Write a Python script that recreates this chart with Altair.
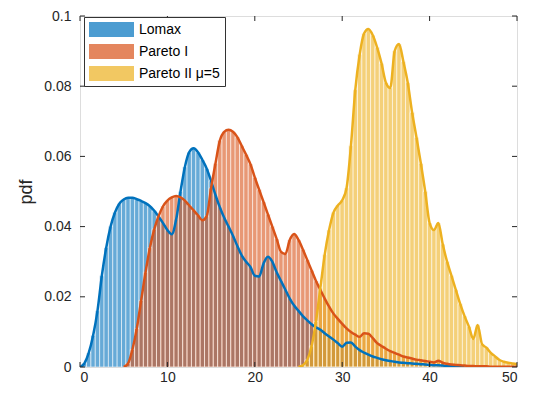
import altair as alt
import pandas as pd

series_names = ["Lomax", "Pareto I", "Pareto II μ=5"]
series_colors = ["#0072BD", "#D95319", "#EDB120"]
bin_width = 0.5

lomax_start = 0.0
lomax_pdf = [0, 0.001, 0.004, 0.009, 0.016, 0.026, 0.034, 0.040, 0.044, 0.0465,
             0.0477, 0.0482, 0.0482, 0.0478, 0.0473, 0.0467, 0.0458, 0.0445, 0.0428, 0.041,
             0.039, 0.0378, 0.042, 0.050, 0.057, 0.0612, 0.0623, 0.0612, 0.059, 0.0565,
             0.053, 0.049, 0.0455, 0.0425, 0.040, 0.0374, 0.0345, 0.0318, 0.030, 0.0285,
             0.026, 0.0258, 0.0295, 0.0314, 0.030, 0.027, 0.0245, 0.022, 0.0195, 0.0175,
             0.016, 0.0145, 0.0133, 0.0122, 0.0113, 0.0106, 0.0096, 0.0087, 0.0078, 0.0068,
             0.0058, 0.0069, 0.0070, 0.0058, 0.0048, 0.0041, 0.0035, 0.003, 0.0026, 0.0022,
             0.0019, 0.0017, 0.0015, 0.0013, 0.0012, 0.0011, 0.001, 0.0009, 0.0008, 0.0007,
             0.0006, 0.0005, 0.0005, 0.0004, 0.0003, 0.0003, 0.0002, 0.0001, 0.0001]

pareto1_start = 5.0
pareto1_pdf = [0, 0.001, 0.005, 0.011, 0.019, 0.027, 0.034, 0.0393, 0.043, 0.0458,
               0.0474, 0.0483, 0.0487, 0.0483, 0.0474, 0.046, 0.0446, 0.0432, 0.0418, 0.043,
               0.051, 0.058, 0.0645, 0.067, 0.0676, 0.067, 0.0655, 0.063, 0.0605, 0.0578,
               0.054, 0.0505, 0.047, 0.0435, 0.040, 0.0365, 0.0328, 0.0322, 0.0362, 0.0379,
               0.0362, 0.0335, 0.0305, 0.0275, 0.0245, 0.022, 0.0195, 0.0172, 0.0152, 0.0137,
               0.0123, 0.011, 0.0100, 0.0092, 0.0086, 0.0096, 0.0095, 0.0082, 0.0068, 0.006,
               0.0052, 0.0045, 0.004, 0.0035, 0.003, 0.0027, 0.0024, 0.0021, 0.0019, 0.0017,
               0.0015, 0.0013, 0.0018, 0.0012, 0.0009, 0.0007, 0.0006, 0.0005, 0.0004, 0.0003,
               0.0003, 0.0002, 0.0002, 0.0002, 0.0001, 0.0001, 0.0001, 0.0001, 0.0001, 0.0001,
               0.0001]

pareto2_start = 25.0
pareto2_pdf = [0, 0.0005, 0.002, 0.006, 0.013, 0.0225, 0.032, 0.039, 0.044, 0.046,
               0.0475, 0.051, 0.063, 0.079, 0.089, 0.095, 0.0963, 0.0945, 0.091, 0.0865,
               0.081, 0.0795, 0.090, 0.092, 0.087, 0.081, 0.0725, 0.0654, 0.058, 0.050,
               0.041, 0.039, 0.041, 0.035, 0.030, 0.026, 0.022, 0.018, 0.0145, 0.0115,
               0.008, 0.012, 0.0065, 0.0055, 0.004, 0.003, 0.002, 0.0015, 0.0012, 0.001,
               0.0008]

x_ticks = [0, 10, 20, 30, 40, 50]
y_ticks = [0, 0.02, 0.04, 0.06, 0.08, 0.1]

W, H = 437, 351
FONT = "Liberation Sans"
AXC = "#262626"

rows = []
for name, start, vals in zip(series_names,
                             [lomax_start, pareto1_start, pareto2_start],
                             [lomax_pdf, pareto1_pdf, pareto2_pdf]):
    for i, v in enumerate(vals):
        x = start + i * bin_width
        rows.append({"series": name, "x": x, "x0": x - bin_width / 2,
                     "x1": x + bin_width / 2, "pdf": v, "base": 0.0})
df = pd.DataFrame(rows)
bars_df = df[df["pdf"] > 0]

xscale = alt.Scale(domain=[0, 50], nice=False, zero=False)
yscale = alt.Scale(domain=[0, 0.1], nice=False)
cscale = alt.Scale(domain=series_names, range=series_colors)

bars = alt.Chart(bars_df).mark_rect(
    fillOpacity=0.6, stroke="white", strokeWidth=0.8, strokeOpacity=0.7, clip=True
).encode(
    x=alt.X("x0:Q", scale=xscale,
            axis=alt.Axis(title=None, values=x_ticks, ticks=False, domain=False, grid=False,
                          labelPadding=3, labelFontSize=14, labelFont=FONT, labelColor=AXC)),
    x2="x1:Q",
    y=alt.Y("pdf:Q", scale=yscale,
            axis=alt.Axis(title="pdf", values=y_ticks, ticks=False, domain=False, grid=False,
                          format="~g", labelPadding=9, labelFontSize=14, labelFont=FONT,
                          labelColor=AXC, titleFontSize=18, titleFont=FONT, titleColor=AXC,
                          titleFontWeight="normal", titleAngle=270, titleX=-49, titleY=H / 2,
                          titleAlign="center", titleBaseline="alphabetic")),
    y2="base:Q",
    color=alt.Color("series:N", scale=cscale, sort=series_names,
                    legend=alt.Legend(title=None, orient="none", legendX=4, legendY=1,
                                      symbolType="M-1,-1L5,-1L5,1L-1,1Z", symbolSize=225,
                                      symbolOpacity=0.7, symbolStrokeWidth=0,
                                      labelOffset=35, labelFontSize=14, labelFont=FONT,
                                      labelColor="black", rowPadding=7, padding=5,
                                      strokeColor="#333333", fillColor="white")),
)

lines = alt.Chart(df).mark_line(strokeWidth=2.5, interpolate="monotone", clip=True).encode(
    x="x:Q",
    y="pdf:Q",
    color=alt.Color("series:N", scale=cscale, legend=None),
    detail="series:N",
)

xt = pd.DataFrame({"t": x_ticks})
yt = pd.DataFrame({"t": y_ticks})
tick_style = dict(color=AXC, strokeWidth=1)
xb = alt.Chart(xt).mark_rule(**tick_style).encode(x="t:Q", y=alt.value(H), y2=alt.value(H - 5))
xtop = alt.Chart(xt).mark_rule(**tick_style).encode(x="t:Q", y=alt.value(0), y2=alt.value(5))
yl = alt.Chart(yt).mark_rule(**tick_style).encode(y="t:Q", x=alt.value(0), x2=alt.value(5))
yr = alt.Chart(yt).mark_rule(**tick_style).encode(y="t:Q", x=alt.value(W), x2=alt.value(W - 5))

chart = alt.layer(bars, lines, xb, xtop, yl, yr).properties(
    width=W, height=H,
    autosize=alt.AutoSizeParams(type="none"),
    padding={"left": 72, "top": 8, "right": 14, "bottom": 24},
).configure_view(stroke="#444444", strokeWidth=1).configure(background="white")

chart.save("out.html", embed_options={"renderer": "svg", "actions": False})
